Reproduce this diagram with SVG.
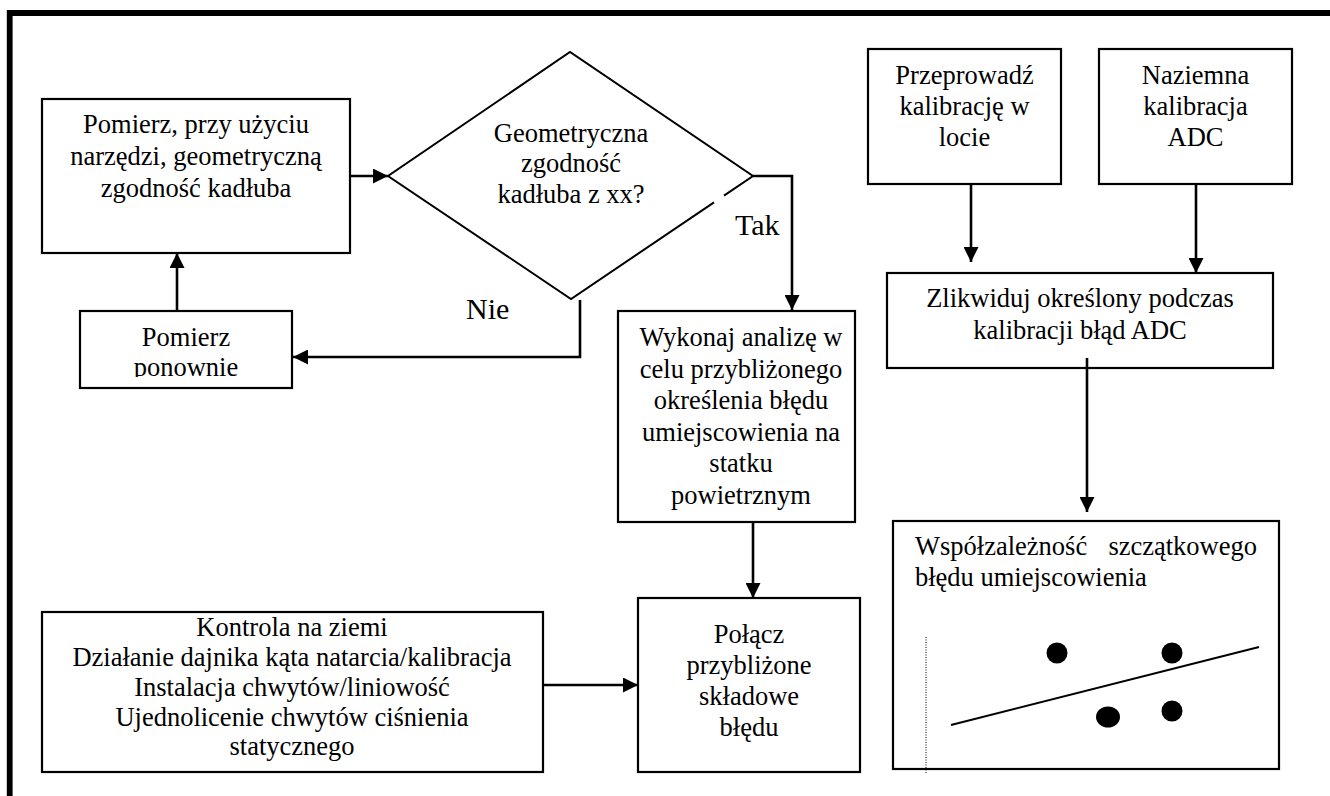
<svg xmlns="http://www.w3.org/2000/svg" width="1330" height="796" viewBox="0 0 1330 796">
  <defs>
    <style>
      text { font-family: "Liberation Serif", "Times New Roman", serif; font-size: 26.5px; fill: #000; }
      .c { text-anchor: middle; }
      .box { fill: #fff; stroke: #000; stroke-width: 2.2; }
      .conn { fill: none; stroke: #000; stroke-width: 2.6; }
      .lbl { font-size: 30px; }
    </style>
    <marker id="arrow" markerUnits="userSpaceOnUse" markerWidth="16" markerHeight="15" refX="15" refY="7.5" orient="auto">
      <path d="M0,0 L15,7.5 L0,15 Z" fill="#000"/>
    </marker>
    <clipPath id="clip-retry">
      <rect x="80" y="311" width="212" height="66"/>
    </clipPath>
  </defs>

  <rect width="1330" height="796" fill="#fff"/>

  <!-- page frame: only the top and left edges fall inside the sheet -->
  <path d="M9.7,800 V13 H1334" fill="none" stroke="#000" stroke-width="5.8"/>

  <g id="connectors">
    <line class="conn" x1="350" y1="176" x2="388" y2="176" marker-end="url(#arrow)"/>
    <line class="conn" x1="177" y1="311" x2="177" y2="253" marker-end="url(#arrow)"/>
    <polyline class="conn" points="580,300 580,357 293,357" marker-end="url(#arrow)"/>
    <polyline class="conn" points="753,176 792,176 792,310" marker-end="url(#arrow)"/>
    <line class="conn" x1="753" y1="522" x2="753" y2="598" marker-end="url(#arrow)"/>
    <line class="conn" x1="543" y1="685" x2="638" y2="685" marker-end="url(#arrow)"/>
    <line class="conn" x1="971" y1="184" x2="971" y2="262" marker-end="url(#arrow)"/>
    <line class="conn" x1="1196" y1="184" x2="1196" y2="273" marker-end="url(#arrow)"/>
    <line class="conn" x1="1087" y1="358" x2="1087" y2="512" marker-end="url(#arrow)"/>
  </g>

  <g id="measure">
    <rect class="box" x="42" y="99" width="308" height="154"/>
    <text class="c" x="196" y="133">Pomierz, przy użyciu</text>
    <text class="c" x="196" y="165">narzędzi, geometryczną</text>
    <text class="c" x="196" y="197">zgodność kadłuba</text>
  </g>

  <g id="decision">
    <path d="M714,202.4 L571,299 L388,176 L570,52 L753,176 L724,195.6" fill="none" stroke="#000" stroke-width="2"/>
    <text class="c" x="571" y="142">Geometryczna</text>
    <text class="c" x="571" y="172">zgodność</text>
    <text class="c" x="571" y="203">kadłuba z xx?</text>
  </g>

  <g id="label-yes">
    <text class="lbl" x="735" y="235">Tak</text>
  </g>
  <g id="label-no">
    <text class="lbl" x="466" y="319">Nie</text>
  </g>

  <g id="remeasure">
    <rect class="box" x="80" y="311" width="212" height="77"/>
    <g clip-path="url(#clip-retry)">
      <text class="c" x="186" y="346">Pomierz</text>
      <text class="c" x="186" y="376">ponownie</text>
    </g>
  </g>

  <g id="analysis">
    <rect class="box" x="618" y="311" width="237" height="211"/>
    <text class="c" x="741" y="346">Wykonaj analizę w</text>
    <text class="c" x="741" y="377.5">celu przybliżonego</text>
    <text class="c" x="741" y="409">określenia błędu</text>
    <text class="c" x="741" y="440.5">umiejscowienia na</text>
    <text class="c" x="741" y="472">statku</text>
    <text class="c" x="741" y="503.5">powietrznym</text>
  </g>

  <g id="combine">
    <rect class="box" x="638" y="598" width="222" height="174"/>
    <text class="c" x="749" y="643">Połącz</text>
    <text class="c" x="749" y="674">przybliżone</text>
    <text class="c" x="749" y="705">składowe</text>
    <text class="c" x="749" y="736">błędu</text>
  </g>

  <g id="ground-check">
    <rect class="box" x="42" y="612" width="501" height="160"/>
    <text class="c" x="292" y="636">Kontrola na ziemi</text>
    <text class="c" x="292" y="666">Działanie dajnika kąta natarcia/kalibracja</text>
    <text class="c" x="292" y="696">Instalacja chwytów/liniowość</text>
    <text class="c" x="292" y="726">Ujednolicenie chwytów ciśnienia</text>
    <text class="c" x="292" y="755">statycznego</text>
  </g>

  <g id="flight-cal">
    <rect class="box" x="868" y="49" width="193" height="135"/>
    <text class="c" x="964.5" y="84">Przeprowadź</text>
    <text class="c" x="964.5" y="115">kalibrację w</text>
    <text class="c" x="964.5" y="146">locie</text>
  </g>

  <g id="ground-cal">
    <rect class="box" x="1099" y="49" width="193" height="135"/>
    <text class="c" x="1195.5" y="84">Naziemna</text>
    <text class="c" x="1195.5" y="115">kalibracja</text>
    <text class="c" x="1195.5" y="146">ADC</text>
  </g>

  <g id="remove-error">
    <rect class="box" x="887" y="273" width="386" height="95"/>
    <line x1="1087" y1="358" x2="1087" y2="368" stroke="#000" stroke-width="2.6"/>
    <text class="c" x="1080" y="307">Zlikwiduj określony podczas</text>
    <text class="c" x="1080" y="339">kalibracji błąd ADC</text>
  </g>

  <g id="residual">
    <rect class="box" x="893" y="521" width="386" height="248"/>
    <text x="915" y="555">Współzależność</text>
    <text x="1257" y="555" text-anchor="end">szczątkowego</text>
    <text x="915" y="586">błędu umiejscowienia</text>
    <line x1="926" y1="637" x2="926" y2="773" stroke="#000" stroke-width="1" stroke-dasharray="1,1.5"/>
    <line x1="951" y1="725" x2="1259" y2="647" stroke="#000" stroke-width="2"/>
    <circle cx="1057" cy="653" r="10.5"/>
    <circle cx="1172" cy="653" r="10.5"/>
    <ellipse cx="1108" cy="717" rx="12" ry="10.5"/>
    <circle cx="1172" cy="711" r="10.5"/>
  </g>
</svg>
